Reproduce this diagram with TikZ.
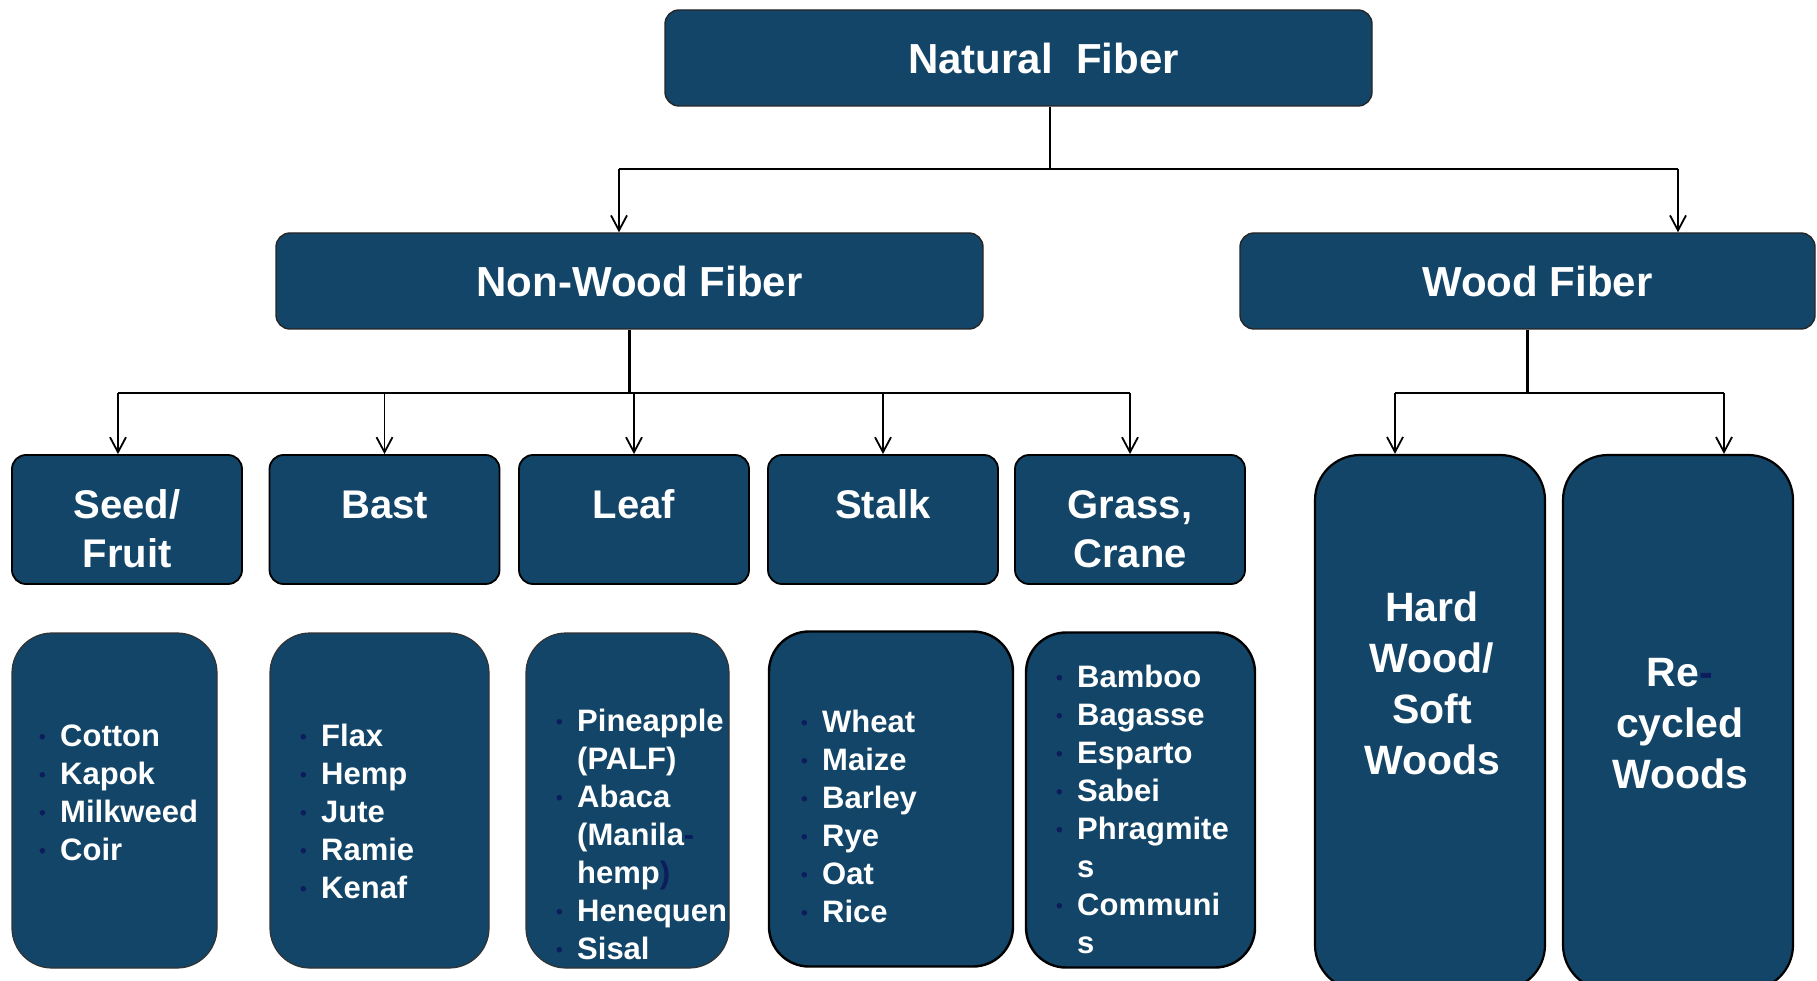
\documentclass[tikz,border=0pt]{standalone}
\usepackage{fontspec}
\setmainfont{Liberation Sans}
\usepackage{tikz}
\usetikzlibrary{arrows.meta,positioning}
\definecolor{FiberBlue}{RGB}{18,69,103}
\definecolor{DotBlue}{RGB}{12,28,92}
\newcommand{\itm}{\makebox[21pt][l]{\raisebox{3pt}{\textcolor{DotBlue}{\fontsize{19}{19}\selectfont\textbullet}}}}
\newcommand{\topup}{\rule{0pt}{47pt}}

\begin{document}
\begin{tikzpicture}[x=1pt,y=-1pt,
  head/.style={draw=black!85,line width=1.4pt,fill=FiberBlue,rounded corners=14pt,
               text=white,font=\bfseries\fontsize{42}{50}\selectfont,minimum height=96pt},
  kind/.style={draw=black,line width=1.8pt,fill=FiberBlue,rounded corners=14pt,
               text=white,align=center,font=\bfseries\fontsize{40}{49}\selectfont,
               minimum width=230pt,minimum height=129pt,inner sep=0pt},
  listbox/.style={draw=black!80,line width=1.2pt,fill=FiberBlue,rounded corners=40pt,
                  minimum height=335pt},
  woodbox/.style={draw=black,line width=2.2pt,fill=FiberBlue,rounded corners=45pt,
                  minimum width=230pt,minimum height=535pt},
  items/.style={anchor=base west,inner sep=0pt,text=white,
                font=\bfseries\fontsize{31}{38}\selectfont},
  woodtxt/.style={text=white,align=center,font=\bfseries\fontsize{41}{51}\selectfont},
  bus/.style={line width=2.4pt},
  arr/.style={-{Straight Barb[length=15pt,width=16pt]},line width=1.8pt},
]
\useasboundingbox (0,0) rectangle (1817,981);
\clip (0,0) rectangle (1817,981);

\node[head,minimum width=707pt] (nat) at (1018.5,58) {\hspace*{50pt}Natural\ \ Fiber};
\node[head,minimum width=707pt] (nonwood) at (629.5,281) {\hspace*{20pt}Non-Wood Fiber};
\node[head,minimum width=575pt] (wood) at (1527.5,281) {\hspace*{20pt}Wood Fiber};

\node[kind] (seed) at (127,519.5) {\topup Seed/\\Fruit};
\node[kind] (bast) at (384.5,519.5) {\topup Bast\\\phantom{Fruit}};
\node[kind] (leaf) at (634,519.5) {\topup Leaf\\\phantom{Fruit}};
\node[kind] (stalk) at (883,519.5) {\topup Stalk\\\phantom{Fruit}};
\node[kind] (grass) at (1130,519.5) {\topup Grass,\\Crane};

\node[woodbox] (hard) at (1430,722.5) {};
\node[woodbox] (recyc) at (1678,722.5) {};
\node[woodtxt] (hardtxt) at (1432,683) {Hard\\Wood/\\Soft\\Woods};
\node[woodtxt] (recyctxt) at (1680,724) {Re\textcolor{DotBlue}{-}\\cycled\\Woods};

\node[listbox,minimum width=205pt] (cotbox) at (114.5,800.5) {};
\node[listbox,minimum width=219pt] (flxbox) at (379.5,800.5) {};
\node[listbox,minimum width=203pt] (lfbox) at (627.5,800.5) {};
\node[listbox,minimum width=244pt,line width=2.4pt,draw=black] (stkbox) at (891,799) {};
\node[listbox,minimum width=229pt,line width=2.4pt,draw=black] (grsbox) at (1140.5,800) {};

\node[items] (cotlist) at (39,746) {\begin{tabular}[t]{@{}l@{}l@{}}
  \itm&Cotton\\ \itm&Kapok\\ \itm&Milkweed\\ \itm&Coir
\end{tabular}};
\node[items] (flxlist) at (300,746) {\begin{tabular}[t]{@{}l@{}l@{}}
  \itm&Flax\\ \itm&Hemp\\ \itm&Jute\\ \itm&Ramie\\ \itm&Kenaf
\end{tabular}};
\node[items] (lflist) at (556,731) {\begin{tabular}[t]{@{}l@{}l@{}}
  \itm&Pineapple\\ &(PALF)\\ \itm&Abaca\\ &(Manila\textcolor{DotBlue}{-}\\
  &hemp\textcolor{DotBlue}{)}\\ \itm&Henequen\\ \itm&Sisal
\end{tabular}};
\node[items] (stklist) at (801,732) {\begin{tabular}[t]{@{}l@{}l@{}}
  \itm&Wheat\\ \itm&Maize\\ \itm&Barley\\ \itm&Rye\\ \itm&Oat\\ \itm&Rice
\end{tabular}};
\node[items] (grslist) at (1056,687) {\begin{tabular}[t]{@{}l@{}l@{}}
  \itm&Bamboo\\ \itm&Bagasse\\ \itm&Esparto\\ \itm&Sabei\\ \itm&Phragmite\\ &s\\
  \itm&Communi\\ &s
\end{tabular}};

\coordinate (topM) at (1050,169);
\coordinate (topL) at (619,169);
\coordinate (topR) at (1678,169);
\draw[bus] (nat.south -| topM) -- (topM);
\draw[bus] (topL) -- (topR);
\draw[arr] (topL) -- (topL |- nonwood.north);
\draw[arr] (topR) -- (topR |- wood.north);

\coordinate (nwbus) at (0,393);
\coordinate (nwL) at (118,393);
\draw[bus] (nonwood.south) -- (nonwood.south |- nwbus);
\draw[bus] (nwL) -- (grass.north |- nwbus);
\draw[arr] (nwL) -- (nwL |- seed.north);
\foreach \k in {bast,leaf,stalk,grass}
  \draw[arr] (\k.north |- nwbus) -- (\k.north);

\coordinate (wL) at (1395,393);
\coordinate (wR) at (1724,393);
\draw[bus] (wood.south) -- (wood.south |- wL);
\draw[bus] (wL) -- (wR);
\draw[arr] (wL) -- (wL |- hard.north);
\draw[arr] (wR) -- (wR |- recyc.north);
\end{tikzpicture}
\end{document}
